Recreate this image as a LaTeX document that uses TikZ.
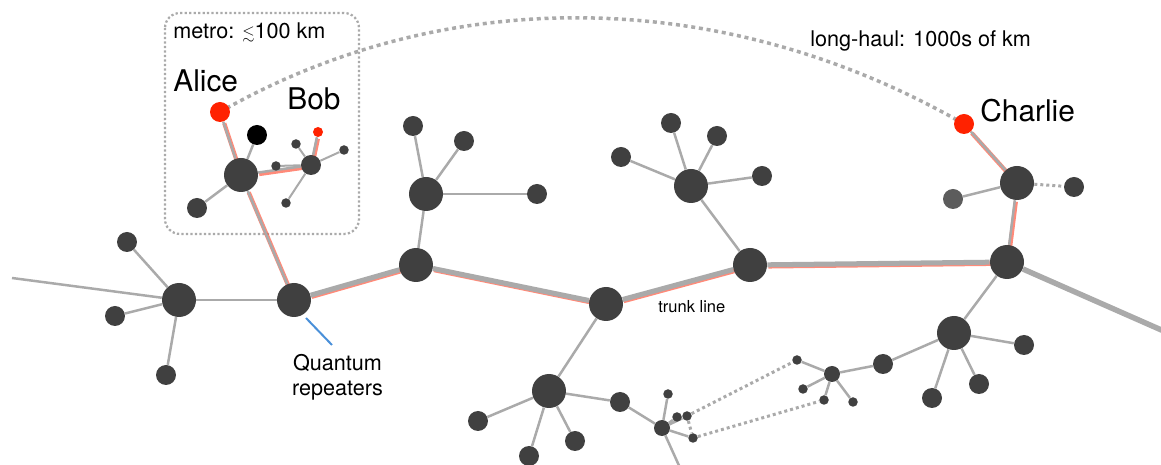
\documentclass[tikz,border=0pt]{standalone}
\usepackage{amssymb}
\usepackage{amsmath}
\usepackage{fontspec}
\setmainfont{TeX Gyre Heros}
\usepackage{tikz}
\usetikzlibrary{backgrounds}
\definecolor{nodegrey}{HTML}{404040}
\definecolor{dimgrey}{HTML}{5C5C5C}
\definecolor{linkgrey}{HTML}{AAAAAA}
\definecolor{qred}{HTML}{FF2200}
\definecolor{pointerblue}{HTML}{4A90D9}

\begin{document}
\begin{tikzpicture}[x=0.02cm,y=-0.02cm,
  hub/.style={circle,fill=nodegrey,inner sep=0pt,minimum size=6.8mm},
  site/.style={circle,fill=nodegrey,inner sep=0pt,minimum size=4mm},
  minihub/.style={circle,fill=nodegrey,inner sep=0pt,minimum size=3.2mm},
  leaf/.style={circle,fill=nodegrey,inner sep=0pt,minimum size=1.9mm},
  user/.style={circle,fill=qred,inner sep=0pt,minimum size=4mm},
  link/.style={linkgrey,line width=0.5mm},
  fine/.style={linkgrey,line width=0.4mm},
  trunk/.style={linkgrey,line width=1mm},
  glow/.style={qred!75,opacity=0.7,line width=#1,transform canvas={shift={(1,1.5)}}},
  tiedots/.style={linkgrey,line width=0.6mm,dash pattern=on 0.6mm off 0.6mm},
  haul/.style={linkgrey,line width=0.7mm,dash pattern=on 0.8mm off 0.75mm},
  metrobox/.style={linkgrey,line width=0.45mm,dash pattern=on 0.45mm off 0.45mm,rounded corners=3mm},
  bigname/.style={font=\fontsize{17}{20}\selectfont,inner sep=0pt,anchor=base west},
  note/.style={font=\fontsize{12.3}{14.2}\selectfont,inner sep=0pt,anchor=base west},
  tag/.style={font=\fontsize{9.4}{11}\selectfont,inner sep=0pt,anchor=base west}]
\useasboundingbox (0,0) rectangle (1161,465);

\node[user] (alice) at (220,112) {};
\node[site,fill=black] (blk) at (257,135) {};
\node[hub] (ahub) at (241,175) {};
\node[site] (aleaf) at (197,208) {};
\node[site] (bhub) at (311,165) {};
\node[user,minimum size=2mm] (bob) at (318,132) {};
\node[leaf] (b1) at (296,144) {};
\node[leaf] (b2) at (344,150) {};
\node[leaf] (b3) at (276,166) {};
\node[leaf] (b4) at (286,203) {};

\coordinate (west) at (12,278);
\coordinate (east) at (1175,336);
\coordinate (south) at (681,470);
\node[hub] (l1) at (179,300) {};
\node[site] (l1a) at (127,242) {};
\node[site] (l1b) at (115,316) {};
\node[site] (l1c) at (166,375) {};
\node[hub] (r1) at (294,300) {};
\node[hub] (r2) at (416,265) {};
\node[hub] (r3) at (606,304) {};
\node[hub] (r4) at (750,265) {};
\node[hub] (r5) at (1007,262) {};

\node[hub] (h2) at (426,194) {};
\node[site] (h2a) at (413,126) {};
\node[site] (h2b) at (464,141) {};
\node[site] (h2c) at (537,194) {};
\node[hub] (h4) at (691,186) {};
\node[site] (h4a) at (621,157) {};
\node[site] (h4b) at (671,123) {};
\node[site] (h4c) at (717,136) {};
\node[site] (h4d) at (762,176) {};
\node[hub] (h3) at (549,391) {};
\node[site] (h3a) at (478,421) {};
\node[site] (h3b) at (529,456) {};
\node[site] (h3c) at (575,441) {};
\node[site] (h3d) at (620,402) {};

\node[minihub] (m1) at (662,428) {};
\node[leaf] (m1a) at (668,394) {};
\node[leaf] (m1b) at (677,417) {};
\node[leaf] (m1c) at (687,416) {};
\node[leaf] (m1d) at (693,438) {};
\node[minihub] (m2) at (832,374) {};
\node[leaf] (m2a) at (797,360) {};
\node[leaf] (m2b) at (803,389) {};
\node[leaf] (m2c) at (824,400) {};
\node[leaf] (m2d) at (853,402) {};
\node[site] (s1) at (883,364) {};
\node[hub] (c1) at (954,333) {};
\node[site] (c1a) at (1024,345) {};
\node[site] (c1b) at (932,398) {};
\node[site] (c1c) at (979,384) {};

\node[user] (charlie) at (964,124) {};
\node[hub] (chub) at (1017,183) {};
\node[site,fill=dimgrey] (cgrey) at (953,199) {};
\node[site] (cright) at (1074,187) {};

\begin{scope}[on background layer]
\draw[haul] (alice.center) .. controls (446,-17) and (724,-14) .. (charlie.center);
\draw[metrobox] (165,13) rectangle (359,234);
\draw[glow=0.9mm] (r1) -- (r2) -- (r3) -- (r4) -- (r5);
\draw[glow=0.85mm] (alice) -- (ahub) -- (r1);
\draw[glow=0.85mm] (ahub) -- (bhub) -- (bob);
\draw[glow=0.85mm] (charlie) -- (chub) -- (r5);
\draw[trunk] (r1) -- (r2);
\draw[trunk] (r2) -- (r3);
\draw[trunk] (r3) -- (r4);
\draw[trunk] (r4) -- (r5);
\draw[trunk,line width=1.1mm] (r5) -- (east);
\draw[link] (alice) -- (ahub);
\draw[link] (ahub) -- (r1);
\draw[link] (ahub) -- (bhub);
\draw[link] (bhub) -- (bob);
\draw[link] (charlie) -- (chub);
\draw[link] (chub) -- (r5);
\draw[link] (ahub) -- (blk);
\draw[link] (ahub) -- (aleaf);
\draw[fine] (bhub) -- (b1);
\draw[fine] (bhub) -- (b2);
\draw[fine] (bhub) -- (b3);
\draw[fine] (bhub) -- (b4);
\draw[link] (west) -- (l1);
\draw[link] (l1) -- (l1a);
\draw[link] (l1) -- (l1b);
\draw[link] (l1) -- (l1c);
\draw[link] (l1) -- (r1);
\draw[link] (r2) -- (h2);
\draw[link] (h2) -- (h2a);
\draw[link] (h2) -- (h2b);
\draw[link] (h2) -- (h2c);
\draw[link] (r4) -- (h4);
\draw[link] (h4) -- (h4a);
\draw[link] (h4) -- (h4b);
\draw[link] (h4) -- (h4c);
\draw[link] (h4) -- (h4d);
\draw[link] (r3) -- (h3);
\draw[link] (h3) -- (h3a);
\draw[link] (h3) -- (h3b);
\draw[link] (h3) -- (h3c);
\draw[link] (h3) -- (h3d);
\draw[link] (h3d) -- (m1);
\draw[link] (m1) -- (m1a);
\draw[link] (m1) -- (m1b);
\draw[link] (m1) -- (m1c);
\draw[link] (m1) -- (m1d);
\draw[link] (m1) -- (south);
\draw[link] (r5) -- (c1);
\draw[link] (c1) -- (c1a);
\draw[link] (c1) -- (c1b);
\draw[link] (c1) -- (c1c);
\draw[link] (c1) -- (s1);
\draw[link] (s1) -- (m2);
\draw[link] (m2) -- (m2a);
\draw[link] (m2) -- (m2b);
\draw[link] (m2) -- (m2c);
\draw[link] (m2) -- (m2d);
\draw[link] (chub) -- (cgrey);
\draw[tiedots] (chub) -- (cright);
\draw[tiedots] (m1c) -- (m2a);
\draw[tiedots] (m1c) -- (m1d);
\draw[tiedots] (m1d) -- (m2c);
\end{scope}

\node[bigname] (alicelabel) at (173,92) {Alice};
\node[bigname] (boblabel) at (287,110) {Bob};
\node[bigname] (charlielabel) at (980,122) {Charlie};
\node[note] (metrolabel) at (173,39) {metro: {\small$\lesssim$}100 km};
\node[note] (haullabel) at (810,47) {long-haul: 1000s of km};
\node[tag] (trunklabel) at (658,313) {trunk line};
\node[note,anchor=north,align=center,inner xsep=0pt,inner ysep=1.8mm] (replabel) at (337.5,345) {Quantum\\repeaters};
\coordinate (ptr) at (306,318);
\draw[pointerblue,line width=0.4mm] (ptr) -- ([xshift=-1.1mm]replabel.north);
\end{tikzpicture}
\end{document}
